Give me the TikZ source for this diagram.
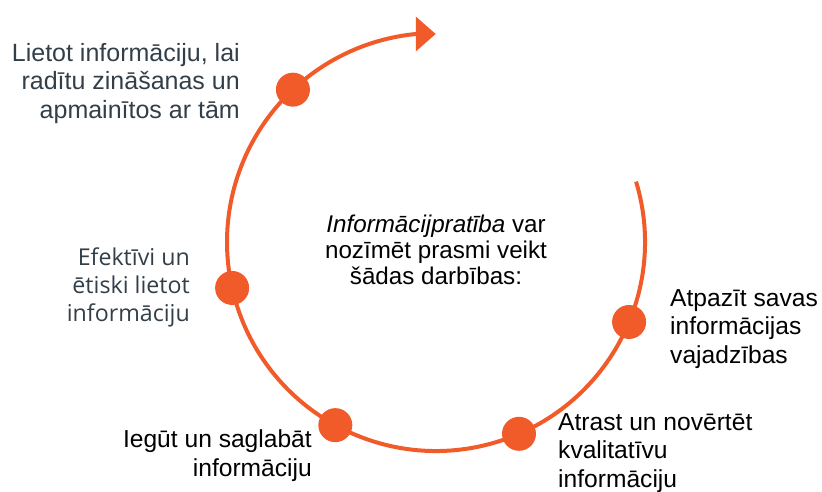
\documentclass[tikz,border=0pt]{standalone}
\usepackage{fontspec}
\setmainfont{Liberation Sans}
\newfontfamily\osans{Open Sans}
\usetikzlibrary{calc}
\definecolor{orng}{RGB}{241,90,41}
\definecolor{slate}{RGB}{50,62,72}
\begin{document}
\begin{tikzpicture}[x=1pt,y=1pt,
  dot/.style={circle,fill=orng,minimum size=34pt,inner sep=0},
  lbl/.style={inner sep=0,font=\fontsize{24.6}{28.5}\selectfont},
  big/.style={inner sep=0,font=\fontsize{25}{28.5}\selectfont},
  cen/.style={inner sep=0,font=\fontsize{24.2}{25.8}\selectfont},
  eff/.style={inner sep=0,text=slate,font=\osans\fontsize{23.2}{28}\selectfont},
]
\useasboundingbox (0,0) rectangle (822,-491);
\coordinate (c) at (436,-242);
\draw[orng,line width=4pt] (c) ++(16.8:209) arc[start angle=16.8,end angle=-264.5,radius=209] coordinate (aend);
\fill[orng] (aend) ++(0,17.3) -- ++(19.7,-17.3) -- ++(-19.7,-17.3) -- cycle;
\node[dot] (d1) at ($(c)+(-22.5:209)$) {};
\node[dot] (d2) at ($(c)+(-66.6:209)$) {};
\node[dot] (d3) at ($(c)+(-118.8:209)$) {};
\node[dot] (d4) at ($(c)+(-167.3:209)$) {};
\node[dot] (d5) at ($(c)+(133.2:209)$) {};
\node[cen,anchor=base,align=center] (t0) at (436,-284) {\textit{Informācijpratība} var\\nozīmēt prasmi veikt\\šādas darbības:};
\node[lbl,anchor=base west,align=left] (t1) at (670,-363) {Atpazīt savas\\informācijas\\vajadzības};
\node[lbl,anchor=base west,align=left] (t2) at (558,-487) {Atrast un novērtēt\\kvalitatīvu\\informāciju};
\node[lbl,anchor=base east,align=right] (t3) at (312,-476) {Iegūt un saglabāt\\informāciju};
\node[eff,anchor=base east,align=right] (t4) at (190,-321) {Efektīvi un\\ētiski lietot\\informāciju};
\node[big,text=slate,anchor=base east,align=right] (t5) at (240,-118) {Lietot informāciju, lai\\radītu zināšanas un\\apmainītos ar tām};
\end{tikzpicture}
\end{document}
